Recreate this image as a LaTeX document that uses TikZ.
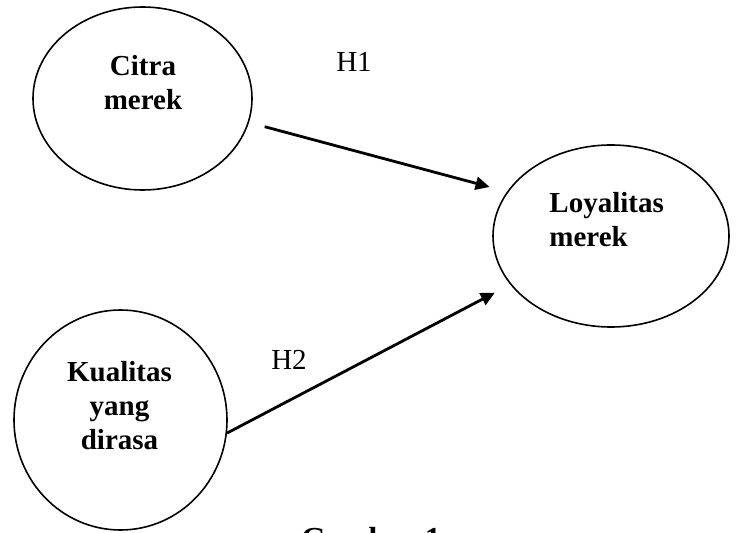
\documentclass[tikz,border=0pt]{standalone}
\usepackage{fontspec}
\setmainfont{Liberation Serif}
\usetikzlibrary{arrows.meta,shapes.geometric}

\begin{document}
\begin{tikzpicture}[x=0.5pt,y=-0.5pt,
    var/.style = {ellipse,draw,line width=0.8pt,inner sep=0pt},
    lbl/.style = {inner sep=0pt,font=\fontsize{14.5}{17}\selectfont\bfseries,align=center},
    hyp/.style = {inner sep=0pt,font=\fontsize{14.5}{17}\selectfont},
    arr/.style = {-{Triangle[length=7pt,width=6.5pt]},line width=1.4pt}]
\clip (0,0) rectangle (737,533);
\node[var,minimum width=109.5pt,minimum height=91.5pt,outer sep=8.5pt] (citra) at (142.5,98.5) {};
\node[var,minimum width=118pt,minimum height=91pt,outer sep=9pt] (loyal) at (611,236) {};
\node[var,minimum width=106.5pt,minimum height=110pt] (kual) at (120.5,420) {};
\node[lbl] (citratxt) at (143,82.5) {Citra\\merek};
\node[lbl,align=left,anchor=west] (loyaltxt) at (549,220) {Loyalitas\\merek};
\node[lbl] (kualtxt) at (119.5,405.5) {Kualitas\\yang\\dirasa};
\node[hyp] (h1) at (354,62) {H1};
\node[hyp] (h2) at (289,360) {H2};
\draw[arr] (citra.-13) -- (loyal.158);
\draw[arr] (kual.-7) -- (loyal.206);
\node[lbl,font=\fontsize{16}{19}\selectfont\bfseries,anchor=north] (fig) at (371,527) {Gambar 1};
\end{tikzpicture}
\end{document}
